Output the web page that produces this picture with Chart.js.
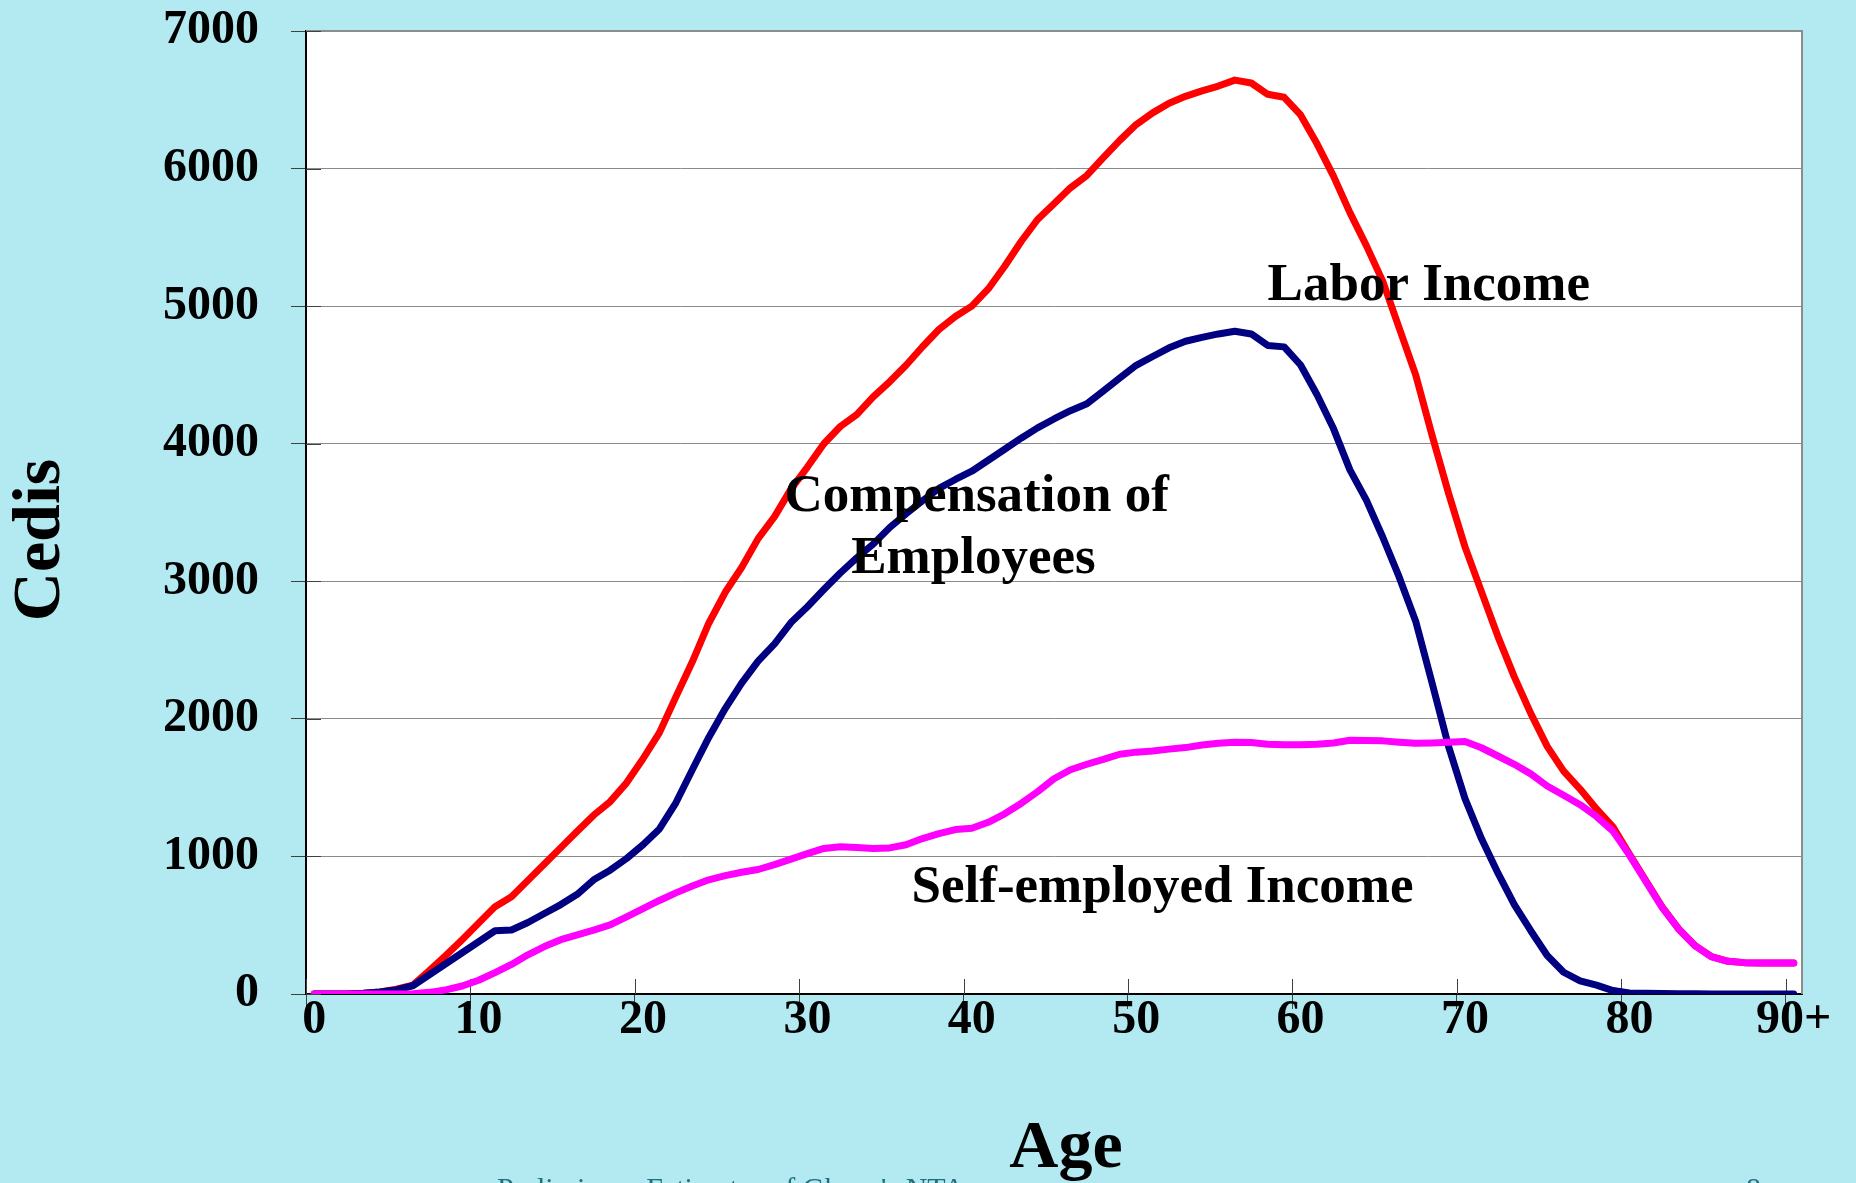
<!DOCTYPE html>
<html>
<head>
<meta charset="utf-8">
<title>Labor income by age</title>
<script src="https://cdn.jsdelivr.net/npm/chart.js@4.4.1/dist/chart.umd.min.js"></script>
<style>
  html, body { margin: 0; padding: 0; background: #b3e9f1; }
  #wrap { width: 1856px; height: 1183px; overflow: hidden; }
</style>
</head>
<body>
<div id="wrap"><canvas id="ageChart" width="1856" height="1183"></canvas></div>
<script>
// ages 0..90+, one category per year
const ages = [
  "0","1","2","3","4","5","6","7","8","9",
  "10","11","12","13","14","15","16","17","18","19",
  "20","21","22","23","24","25","26","27","28","29",
  "30","31","32","33","34","35","36","37","38","39",
  "40","41","42","43","44","45","46","47","48","49",
  "50","51","52","53","54","55","56","57","58","59",
  "60","61","62","63","64","65","66","67","68","69",
  "70","71","72","73","74","75","76","77","78","79",
  "80","81","82","83","84","85","86","87","88","89",
  "90+"
];

const laborIncome = [
  0, 0, 0, 5, 15, 35, 65, 170, 280, 395,
  515, 635, 707, 826, 945, 1064, 1183, 1300, 1398, 1535,
  1710, 1900, 2160, 2415, 2695, 2920, 3100, 3310, 3470, 3670,
  3830, 4000, 4125, 4211, 4340, 4450, 4570, 4705, 4830, 4925,
  5000, 5125, 5290, 5470, 5630, 5745, 5860, 5950, 6080, 6205,
  6320, 6405, 6475, 6525, 6565, 6600, 6643, 6622, 6540, 6518,
  6390, 6180, 5945, 5680, 5440, 5180, 4840, 4500, 4060, 3640,
  3250, 2925, 2600, 2305, 2040, 1800, 1620, 1490, 1345, 1215,
  1018, 824, 631, 473, 351, 271, 238, 228, 225, 225,
  225
];

const compensation = [
  0, 0, 0, 5, 15, 30, 60, 140, 220, 300,
  380, 460, 465, 520, 585, 650, 725, 830, 900, 985,
  1085, 1200, 1390, 1630, 1865, 2075, 2260, 2420, 2545, 2700,
  2815, 2940, 3060, 3170, 3270, 3390, 3490, 3585, 3675, 3740,
  3800, 3880, 3960, 4040, 4115, 4180, 4240, 4290, 4384, 4478,
  4570, 4634, 4697, 4745, 4773, 4798, 4818, 4798, 4714, 4704,
  4572, 4356, 4110, 3810, 3590, 3320, 3030, 2710, 2260, 1800,
  1420, 1130, 880, 650, 460, 280, 158, 96, 64, 25,
  8, 5, 3, 2, 1, 0, 0, 0, 0, 0,
  0
];

const selfEmployed = [
  0, 0, 0, 0, 0, 0, 2, 12, 30, 58,
  100, 155, 215, 285, 345, 395, 430, 465, 502, 560,
  620, 680, 735, 785, 830, 860, 885, 905, 940, 980,
  1020, 1058, 1070, 1065, 1058, 1062, 1085, 1130, 1165, 1195,
  1205, 1248, 1310, 1385, 1470, 1565, 1630, 1670, 1705, 1743,
  1758, 1767, 1780, 1791, 1810, 1822, 1830, 1828, 1815, 1812,
  1812, 1815, 1825, 1845, 1842, 1840, 1830, 1822, 1825, 1830,
  1835, 1790, 1730, 1670, 1600, 1512, 1445, 1376, 1290, 1184,
  1010, 819, 628, 471, 350, 270, 238, 228, 225, 225,
  225
];

const yTicks = [0, 1000, 2000, 3000, 4000, 5000, 6000, 7000];

// text labels placed on the chart, anchored at (age index, value)
const notes = [
  { text: "Labor Income", age: 67.8, value: 5045 },
  { text: "Compensation of", age: 40.3, value: 3510 },
  { text: "Employees", age: 40.1, value: 3060 },
  { text: "Self-employed Income", age: 51.6, value: 668 }
];

const bgColor = "#b3e9f1";
const serif = "'Liberation Serif', 'Times New Roman', serif";

const chartFrame = {
  id: "chartFrame",
  beforeDraw(chart) {
    const { ctx, chartArea: a } = chart;
    ctx.save();
    ctx.fillStyle = bgColor;
    ctx.fillRect(0, 0, chart.width, chart.height);
    ctx.fillStyle = "#ffffff";
    ctx.fillRect(a.left, a.top, a.right - a.left, a.bottom - a.top);
    ctx.restore();
  },
  beforeDatasetsDraw(chart) {
    const { ctx, chartArea: a, scales: { x, y } } = chart;
    ctx.save();
    // grey frame on top and right
    ctx.strokeStyle = "#8c8c8c";
    ctx.lineWidth = 2;
    ctx.beginPath();
    ctx.moveTo(a.left, a.top);
    ctx.lineTo(a.right, a.top);
    ctx.lineTo(a.right, a.bottom);
    ctx.stroke();
    // tick marks crossing into the plot
    ctx.strokeStyle = "#404040";
    ctx.lineWidth = 1;
    const half = (x.getPixelForValue(1) - x.getPixelForValue(0)) / 2;
    for (let i = 0; i < ages.length; i += 10) {
      const px = Math.round(x.getPixelForValue(i) - half) + 0.5;
      ctx.beginPath();
      ctx.moveTo(px, a.bottom);
      ctx.lineTo(px, a.bottom - 15);
      ctx.stroke();
    }
    yTicks.forEach(v => {
      const py = Math.round(y.getPixelForValue(v)) + 0.5;
      ctx.beginPath();
      ctx.moveTo(a.left, py);
      ctx.lineTo(a.left + 15, py);
      ctx.stroke();
    });
    ctx.restore();
  },
  afterDraw(chart) {
    const { ctx, scales: { x, y } } = chart;
    ctx.save();
    ctx.fillStyle = "#000";

    // series names on the plot
    ctx.font = "bold 53px " + serif;
    ctx.textAlign = "center";
    ctx.textBaseline = "alphabetic";
    notes.forEach(n => {
      ctx.fillText(n.text, x.getPixelForValue(n.age), y.getPixelForValue(n.value));
    });

    // footer of the slide, mostly cut off
    ctx.fillStyle = "#1f6f7c";
    ctx.font = "30px " + serif;
    ctx.textAlign = "left";
    ctx.textBaseline = "top";
    ctx.fillText("Preliminary Estimates of Ghana's NTA", 497, 1175);
    ctx.fillText("8", 1746, 1175);

    // axis titles
    ctx.fillStyle = "#000";
    ctx.font = "bold 68px " + serif;
    ctx.textAlign = "center";
    ctx.textBaseline = "alphabetic";
    ctx.fillText("Age", 1066, 1167);

    ctx.translate(41, 540);
    ctx.rotate(-Math.PI / 2);
    ctx.textBaseline = "middle";
    ctx.fillText("Cedis", 0, 0);
    ctx.restore();
  }
};

const tickFont = { family: serif, size: 48, weight: "bold", lineHeight: 1 };

const chart = new Chart("ageChart", {
  type: "line",
  data: {
    labels: ages,
    datasets: [
      {
        label: "Labor Income",
        data: laborIncome,
        borderColor: "#ff0000",
        borderWidth: 7,
        order: 3
      },
      {
        label: "Compensation of Employees",
        data: compensation,
        borderColor: "#000080",
        borderWidth: 7,
        order: 2
      },
      {
        label: "Self-employed Income",
        data: selfEmployed,
        borderColor: "#ff00ff",
        borderWidth: 7,
        order: 1
      }
    ]
  },
  options: {
    responsive: false,
    animation: false,
    layout: { padding: { top: 31, right: 54, bottom: 0, left: 0 } },
    elements: {
      point: { radius: 0 },
      line: { tension: 0, borderJoinStyle: "round", borderCapStyle: "round", fill: false }
    },
    plugins: {
      legend: { display: false },
      tooltip: { enabled: false }
    },
    scales: {
      x: {
        offset: true,
        afterFit(scale) { scale.height = 189; },
        grid: {
          offset: true,
          drawOnChartArea: false,
          tickLength: 15,
          lineWidth: 1,
          color: ctx => (ctx.index % 10 === 0 ? "#404040" : "rgba(0,0,0,0)")
        },
        border: { color: "#000", width: 2 },
        ticks: {
          autoSkip: false,
          maxRotation: 0,
          padding: -12,
          color: "#000",
          font: tickFont,
          callback(value, index) {
            return index % 10 === 0 ? this.getLabelForValue(value) : "";
          }
        }
      },
      y: {
        min: 0,
        max: 7000,
        afterFit(scale) {
          scale.width = 306;
          // label gap should not push the plot down
          scale.paddingTop = 0;
          scale.paddingBottom = 0;
        },
        grid: { color: "#8a8a8a", lineWidth: 1, tickLength: 15, tickColor: "#404040" },
        border: { color: "#000", width: 2 },
        ticks: {
          stepSize: 1000,
          padding: 32,
          color: "#000",
          font: tickFont,
          callback: value => String(value)
        }
      }
    }
  },
  plugins: [chartFrame]
});
</script>
</body>
</html>
